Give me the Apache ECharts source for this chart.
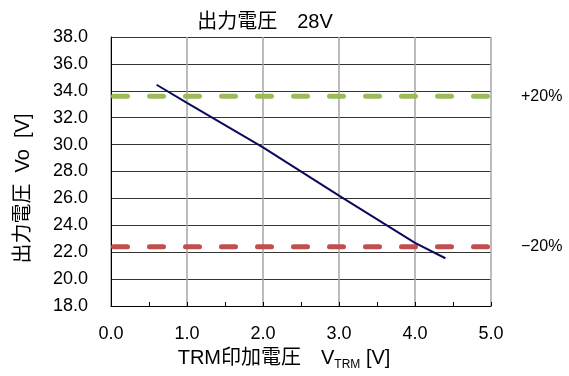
<!DOCTYPE html>
<html>
<head>
<meta charset="utf-8">
<script src="https://cdn.jsdelivr.net/npm/echarts@6/dist/echarts.min.js"></script>
<style>
html,body{margin:0;padding:0;background:#fff;}
#chart{width:569px;height:376px;}
</style>
</head>
<body>
<div id="chart"></div>
<script>
const titleText = '出力電圧　28V';
const xAxisTitle = '{a|TRM印加電圧　V}{s|TRM}{a| [V]}';
const yAxisTitle = '出力電圧  Vo  [V]';
const trmVoltage = [0.6, 1.0, 2.0, 3.0, 4.0, 4.4];
const outputVoltage = [34.45, 33.1, 29.8, 26.2, 22.7, 21.55];
const limitX = [0, 5];
const upperLimit = 33.6;
const lowerLimit = 22.4;
const limitLabels = ['+20%', '\u221220%'];
const xRange = [0, 5, 1];
const yRange = [18, 38, 2];

const FONT = "'Liberation Sans', 'Noto Sans CJK JP', sans-serif";
const chart = echarts.init(document.getElementById('chart'), null, {renderer: 'canvas'});

function limitSeries(value, color, label) {
  return {
    type: 'line',
    data: limitX.map(x => [x, value]),
    symbol: 'none',
    silent: true,
    lineStyle: {color: color, width: 5, type: [14, 22], cap: 'round', dashOffset: -2.5},
    endLabel: {
      show: true,
      formatter: label,
      distance: 30,
      color: '#000',
      fontSize: 16,
      fontFamily: FONT
    },
    z: 3
  };
}

chart.setOption({
  animation: false,
  backgroundColor: '#fff',
  title: {
    text: titleText,
    left: 265,
    textAlign: 'center',
    top: 12,
    padding: 0,
    textStyle: {fontSize: 20, fontWeight: 'normal', color: '#000', fontFamily: FONT}
  },
  grid: {left: 111, right: 78, top: 37, bottom: 69, containLabel: false},
  xAxis: {
    type: 'value',
    min: xRange[0], max: xRange[1], interval: xRange[2],
    name: xAxisTitle,
    nameLocation: 'middle',
    nameGap: 39,
    nameTextStyle: {
      color: '#000',
      padding: [0, 34, 0, 0],
      rich: {
        a: {fontSize: 20, fontFamily: FONT, color: '#000'},
        s: {fontSize: 12, fontFamily: FONT, color: '#000', padding: [14, 0, 0, 0]}
      }
    },
    axisLine: {show: true, lineStyle: {color: '#000', width: 1}},
    axisTick: {show: true, inside: true, length: 4, lineStyle: {color: '#000'}},
    minorTick: {show: true, splitNumber: 2, length: 4, lineStyle: {color: '#000'}},
    axisLabel: {
      formatter: v => v.toFixed(1),
      fontSize: 18, color: '#000', fontFamily: FONT, margin: 19
    },
    splitLine: {show: true, lineStyle: {color: '#a6a6a6', width: 1.5}}
  },
  yAxis: {
    type: 'value',
    min: yRange[0], max: yRange[1], interval: yRange[2],
    name: yAxisTitle,
    nameLocation: 'middle',
    nameGap: 78,
    nameRotate: 90,
    nameTextStyle: {fontSize: 20, color: '#000', fontFamily: FONT, padding: [0, 34, 0, 0]},
    axisLine: {show: true, lineStyle: {color: '#000', width: 1}},
    axisTick: {show: false},
    axisLabel: {
      formatter: v => v.toFixed(1),
      fontSize: 18, color: '#000', fontFamily: FONT, margin: 23
    },
    splitLine: {show: true, lineStyle: {color: '#333', width: 1}}
  },
  series: [
    limitSeries(upperLimit, '#9BBB59', limitLabels[0]),
    limitSeries(lowerLimit, '#C0504D', limitLabels[1]),
    {
      type: 'line',
      data: trmVoltage.map((x, i) => [x, outputVoltage[i]]),
      symbol: 'none',
      lineStyle: {color: '#0b0b5c', width: 2},
      z: 4
    }
  ]
});
</script>
</body>
</html>
